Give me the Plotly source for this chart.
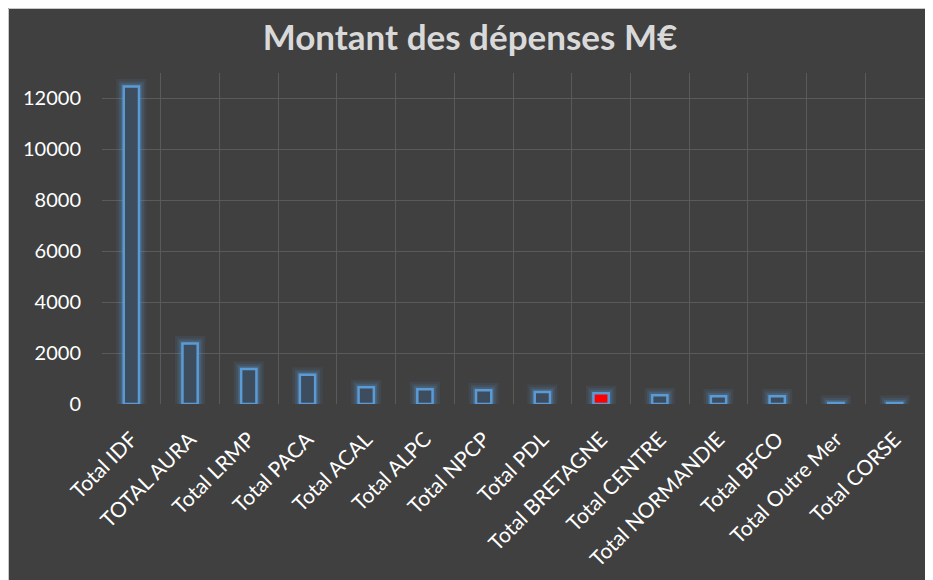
import plotly.graph_objects as go

categories = ["Total IDF", "TOTAL AURA", "Total LRMP", "Total PACA", "Total ACAL",
              "Total ALPC", "Total NPCP", "Total PDL", "Total BRETAGNE", "Total CENTRE",
              "Total NORMANDIE", "Total BFCO", "Total Outre Mer", "Total CORSE"]
values = [12470, 2380, 1370, 1150, 655, 576, 537, 470, 420, 340, 300, 300, 40, 40]
highlight = "Total BRETAGNE"

title_text = "Montant des dépenses M€"
y_ticks = [0, 2000, 4000, 6000, 8000, 10000, 12000]
y_tick_labels = ["0", "2000", "4000", "6000", "8000", "10000", "12000"]

fill_colors = ["#ff0000" if c == highlight else "#3d4d5e" for c in categories]

fig = go.Figure()
# soft glow layers (wide translucent outlines)
for lw, alpha in [(15, 0.09), (10, 0.14), (6, 0.22)]:
    fig.add_trace(go.Bar(x=categories, y=values, width=0.26,
                         marker=dict(color="rgba(0,0,0,0)",
                                     line=dict(color=f"rgba(91,155,213,{alpha})", width=lw)),
                         hoverinfo="skip", showlegend=False))
fig.add_trace(go.Bar(x=categories, y=values, width=0.26,
                     marker=dict(color=fill_colors, line=dict(color="#5b9bd5", width=2.5)),
                     showlegend=False))

# page body adds an 8px margin; figure sized to fill the rest
W, H = 925, 572
L, R, T, B = 94, 9, 65, 176
pw, ph = W - L - R, H - T - B

# thin light border around the chart area
fig.add_shape(type="rect", xref="paper", yref="paper",
              x0=(0.5 - L) / pw, x1=(W + 5 - L) / pw,
              y0=-(H + 5 - T - ph) / ph, y1=(H - 0.5 - B) / ph,
              fillcolor="rgba(0,0,0,0)", line=dict(color="#c8c8c8", width=1), layer="below")

fig.update_layout(
    width=W, height=H,
    margin=dict(l=L, r=R, t=T, b=B),
    paper_bgcolor="#404040",
    plot_bgcolor="#404040",
    barmode="overlay",
    title=dict(text=title_text, x=(462 - L) / pw, xref="paper", xanchor="center",
               y=1 - 30 / H, yanchor="middle",
               font=dict(family="Lato, Carlito, sans-serif", size=35, color="#d9d9d9", weight="bold")),
    font=dict(family="Lato, Carlito, sans-serif", color="white"),
    xaxis=dict(type="category", tickson="boundaries", showgrid=True, gridcolor="#5a5a5a",
               gridwidth=1, ticks="", tickangle=-45, tickfont=dict(size=21, color="white"),
               ticklabelstandoff=18,
               showline=False, zeroline=False, automargin=False),
    yaxis=dict(range=[0, 13000], tickvals=y_ticks, ticktext=y_tick_labels, showgrid=True,
               gridcolor="#5a5a5a", gridwidth=1, ticks="", tickfont=dict(size=20, color="white"),
               ticklabelstandoff=20,
               showline=False, zeroline=False, automargin=False),
)

fig.write_html("out.html")
